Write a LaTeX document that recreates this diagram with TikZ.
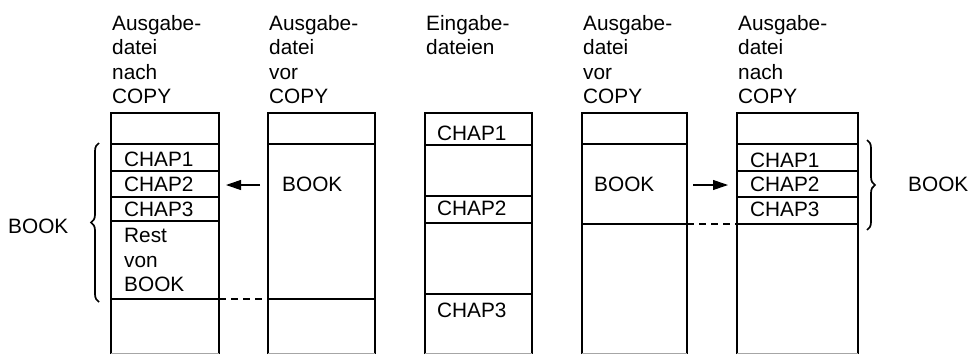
\documentclass[tikz,border=0pt]{standalone}
\usepackage{fontspec}
\setmainfont{Liberation Sans}
\usetikzlibrary{decorations.pathreplacing,arrows.meta}
\begin{document}
\begin{tikzpicture}[x=1pt,y=-1pt,
  box/.style={line width=1.1pt},
  sep/.style={line width=1.1pt},
  dashline/.style={line width=1.1pt,dash pattern=on 7pt off 5pt},
  txt/.style={anchor=base west,inner sep=0pt,font=\fontsize{20.8}{24.5}\selectfont},
  head/.style={anchor=north west,inner sep=0pt,align=left,font=\fontsize{20.8}{24.5}\selectfont},
  arr/.style={line width=1.1pt,-{Triangle[length=15pt,width=10pt]}},
  brc/.style={line width=1.7pt,decorate,decoration={brace,amplitude=8pt,aspect=0.5}}]
\useasboundingbox (0,0) rectangle (971,354);
% headings
\node[head] (h1) at (112,15) {Ausgabe-\\datei\\nach\\COPY};
\node[head] (h2) at (269,15) {Ausgabe-\\datei\\vor\\COPY};
\node[head] (h3) at (426,15) {Eingabe-\\dateien};
\node[head] (h4) at (583,15) {Ausgabe-\\datei\\vor\\COPY};
\node[head] (h5) at (738,15) {Ausgabe-\\datei\\nach\\COPY};
% column outlines
\draw[box] (111,354) -- (111,113) -- (219,113) -- (219,354);
\draw[box] (268,354) -- (268,113) -- (375,113) -- (375,354);
\draw[box] (425,354) -- (425,113) -- (532,113) -- (532,354);
\draw[box] (582,354) -- (582,113) -- (687,113) -- (687,354);
\draw[box] (737,354) -- (737,113) -- (858,113) -- (858,354);
\draw[line width=0.6pt,black!35] (111,353) -- (219,353) (268,353) -- (375,353)
  (425,353) -- (532,353) (582,353) -- (687,353) (737,353) -- (858,353);
% separators
\foreach \y in {144,171,197,221,299} \draw[sep] (111,\y) -- (219,\y);
\foreach \y in {144,299} \draw[sep] (268,\y) -- (375,\y);
\foreach \y in {145,196,223,294} \draw[sep] (425,\y) -- (532,\y);
\foreach \y in {144,224} \draw[sep] (582,\y) -- (687,\y);
\foreach \y in {144,171,197,224} \draw[sep] (737,\y) -- (858,\y);
% dashed continuations
\coordinate (d1a) at (219,299); \coordinate (d1b) at (268,299);
\coordinate (d2a) at (687,224); \coordinate (d2b) at (737,224);
\draw[dashline] (d1a) -- (d1b);
\draw[dashline] (d2a) -- (d2b);
% texts column 1
\node[txt] (c1a) at (124,166) {CHAP1};
\node[txt] (c1b) at (124,191) {CHAP2};
\node[txt] (c1c) at (124,216) {CHAP3};
\node[txt] (c1d) at (124,242) {Rest};
\node[txt] (c1e) at (124,267) {von};
\node[txt] (c1f) at (124,291) {BOOK};
% column 2
\node[txt] (b2) at (282,191) {BOOK};
% column 3
\node[txt] (c3a) at (437,140) {CHAP1};
\node[txt] (c3b) at (437,215) {CHAP2};
\node[txt] (c3c) at (437,317) {CHAP3};
% column 4
\node[txt] (b4) at (594,191) {BOOK};
% column 5
\node[txt] (c5a) at (750,167) {CHAP1};
\node[txt] (c5b) at (750,191) {CHAP2};
\node[txt] (c5c) at (750,216) {CHAP3};
% outer labels
\node[txt] (bl) at (8,233) {BOOK};
\node[txt] (br) at (908,191) {BOOK};
% arrows
\coordinate (a1s) at (260,185); \coordinate (a1e) at (226,185);
\coordinate (a2s) at (693,185); \coordinate (a2e) at (728,185);
\draw[arr] (a1s) -- (a1e);
\draw[arr] (a2s) -- (a2e);
% braces
\coordinate (l1) at (99,302); \coordinate (l2) at (99,143);
\coordinate (r1) at (867,140); \coordinate (r2) at (867,230);
\draw[brc] (l1) -- (l2);
\draw[brc] (r1) -- (r2);
\end{tikzpicture}
\end{document}
